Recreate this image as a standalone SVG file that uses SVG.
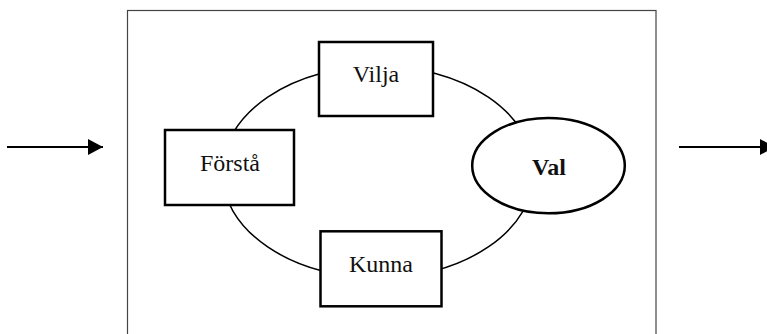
<svg xmlns="http://www.w3.org/2000/svg" width="767" height="334" viewBox="0 0 767 334">
<defs>
<style>
.box{fill:#fff;stroke:#000;stroke-width:2.5}
.lbl{font-family:"Liberation Serif","Times New Roman",serif;font-size:24px;fill:#111;text-anchor:middle}
.ring{fill:none;stroke:#000;stroke-width:1.5}
.arr{stroke:#000;stroke-width:2;fill:none}
</style>
<marker id="ah" markerWidth="15" markerHeight="16" refX="15" refY="8" orient="auto" markerUnits="userSpaceOnUse">
<path d="M0,0 L15,8 L0,16 Z" fill="#000"/>
</marker>
</defs>
<rect width="767" height="334" fill="#fff"/>
<g id="frame">
<rect x="127.5" y="10.5" width="528.5" height="340" fill="none" stroke="#444" stroke-width="1.2"/>
</g>
<g id="connectors">
<ellipse class="ring" cx="378" cy="172" rx="156" ry="106"/>
<line class="arr" x1="7" y1="147" x2="103" y2="147" marker-end="url(#ah)"/>
<line class="arr" x1="679" y1="147" x2="775" y2="147" marker-end="url(#ah)"/>
</g>
<g id="vilja">
<rect class="box" x="319" y="42" width="114" height="74"/>
<text class="lbl" x="376" y="82">Vilja</text>
</g>
<g id="forsta">
<rect class="box" x="165" y="130" width="129" height="75"/>
<text class="lbl" x="230" y="171">Förstå</text>
</g>
<g id="kunna">
<rect class="box" x="320.5" y="231.3" width="121" height="75"/>
<text class="lbl" x="381" y="272">Kunna</text>
</g>
<g id="val">
<ellipse class="box" cx="548.5" cy="165.6" rx="76.3" ry="47.7"/>
<text class="lbl" x="549" y="175" font-weight="bold">Val</text>
</g>
</svg>
